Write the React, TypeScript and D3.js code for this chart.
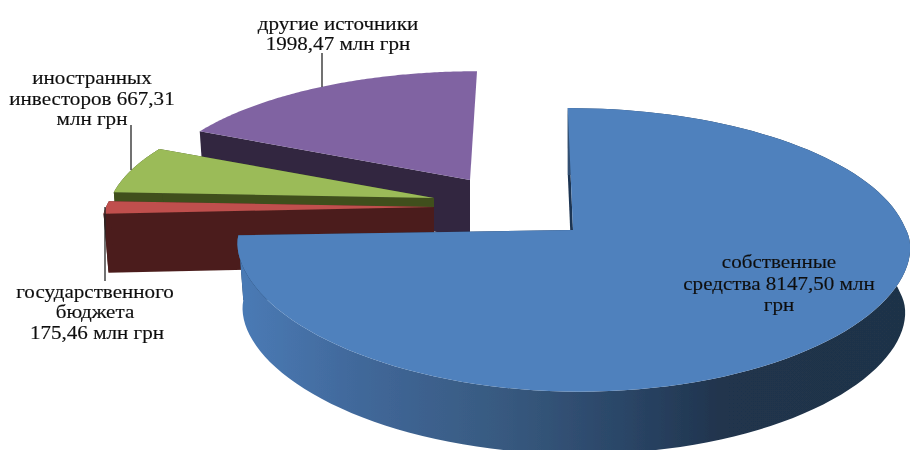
import React from "react";
import * as d3 from "d3";

// ---- data ----
const sliceNames = ["собственные средства", "государственного бюджета", "иностранных инвесторов", "другие источники"];
const sliceValues = [8147.5, 175.46, 667.31, 1998.47];
const faceColors = ["#4f81bd", "#c0504d", "#9bbb59", "#8064a2"];
const wallColors = ["#1f3552", "#4c1f1d", "#3f4f1f", "#322741"];

// ---- layout of each exploded slice (apex, radii, skew of perspective) ----
const apexX = [573, 434, 434, 470];
const apexY = [230, 207, 198, 180];
const radX = [333, 328, 323, 318];
const radY = [139, 125, 125, 124];
const skews = [-6, 8, 8, 8];
const depths = [65, 59, 58, 58];
const frontCurve = [1.12, 1, 1, 1];
const hasRimWall = [true, true, true, false];
const drawOrder = [3, 2, 1, 0];
const PERSPECTIVE = 0.14;
const DEPTH_SCALE = 0.985;

const labels = [
  { lines: ["другие источники", "1998,47 млн грн"], x: 338, y: [30, 50] },
  { lines: ["иностранных", "инвесторов 667,31", "млн грн"], x: 92, y: [84, 105, 125] },
  { lines: ["государственного", "бюджета"], x: 95, y: [298, 318] },
  { lines: ["175,46 млн грн"], x: 97, y: [339] },
  { lines: ["собственные", "средства 8147,50 млн", "грн"], x: 779, y: [268, 290, 311] },
];
const leaders = [
  { x1: 322, y1: 53, x2: 322, y2: 87 },
  { x1: 131, y1: 125, x2: 131, y2: 170 },
  { x1: 105, y1: 207, x2: 105, y2: 281 },
];

const wallStops = [
  { o: 0, c: "#4a7bb6" },
  { o: 0.18, c: "#41689a" },
  { o: 0.4, c: "#37597f" },
  { o: 0.58, c: "#2a4566" },
  { o: 0.72, c: "#20344d" },
  { o: 1, c: "#1f3347" },
];

type Pt = [number, number];

const pieGen = d3.pie<number>().sort(null).value((d) => d).startAngle(0).endAngle(2 * Math.PI);
const arcs = pieGen(sliceValues);
const line = d3.line<Pt>().x((d) => d[0]).y((d) => d[1]);

function projector(i: number) {
  const sx = d3.scaleLinear().domain([0, 1]).range([apexX[i], apexX[i] + radX[i]]);
  const sy = d3.scaleLinear().domain([0, 1]).range([apexY[i], apexY[i] - radY[i]]);
  return (theta: number): Pt => {
    const u = Math.sin(theta);
    const v = Math.cos(theta);
    const k = 1 / (1 + PERSPECTIVE * v);
    const vy = v < 0 ? -Math.pow(-v, frontCurve[i]) : v;
    return [sx(u * k) + skews[i] * v * k, sy(vy * k)];
  };
}

function lower(i: number, p: Pt): Pt {
  return [
    apexX[i] + (p[0] - apexX[i]) * DEPTH_SCALE,
    apexY[i] + (p[1] - apexY[i]) * DEPTH_SCALE + depths[i],
  ];
}

function rimPoints(i: number): Pt[] {
  const a = arcs[i];
  const proj = projector(i);
  return d3.range(0, 121).map((t) => proj(a.startAngle + ((a.endAngle - a.startAngle) * t) / 120));
}

export default function App() {
  return (
    <svg
      width={910}
      height={450}
      viewBox="0 0 910 450"
      style={{ position: "absolute", left: 0, top: 0, background: "#fff" }}
    >
      <defs>
        <linearGradient id="blueWall" gradientUnits="userSpaceOnUse" x1={237} x2={910} y1={0} y2={0}>
          {wallStops.map((s) => (
            <stop key={s.o} offset={s.o} stopColor={s.c} />
          ))}
        </linearGradient>
        <filter id="soft" x="-5%" y="-20%" width="110%" height="140%">
          <feGaussianBlur stdDeviation={0.4} />
        </filter>
      </defs>
      <g filter="url(#soft)">
        {drawOrder.map((i) => {
          const rim = rimPoints(i);
          const apex: Pt = [apexX[i], apexY[i]];
          const first = rim[0];
          const last = rim[rim.length - 1];
          const rimWall = [...rim, ...rim.map((p) => lower(i, p)).reverse()];
          const cutStart = [apex, first, lower(i, first), lower(i, apex)];
          const cutEnd = [apex, last, lower(i, last), lower(i, apex)];
          return (
            <g key={sliceNames[i]}>
              <path d={line(cutStart) + "Z"} fill={wallColors[i]} />
              {hasRimWall[i] && <path d={line(cutEnd) + "Z"} fill={wallColors[i]} />}
              {hasRimWall[i] && (
                <path d={line(rimWall) + "Z"} fill={i === 0 ? "url(#blueWall)" : wallColors[i]} />
              )}
              <path d={line([apex, ...rim]) + "Z"} fill={faceColors[i]} />
            </g>
          );
        })}
        {leaders.map((l) => (
          <line key={l.x1} {...l} stroke="#222" strokeWidth={1.3} />
        ))}
      </g>
      <g
        fontFamily="'Liberation Serif', serif"
        fontSize={19}
        fill="#111"
        stroke="#111"
        strokeWidth={0.15}
        textAnchor="middle"
        filter="url(#soft)"
      >
        {labels.map((g) =>
          g.lines.map((t, j) => (
            <text key={t} transform={`translate(${g.x},${g.y[j]}) scale(1.11,1)`}>
              {t}
            </text>
          ))
        )}
      </g>
    </svg>
  );
}
